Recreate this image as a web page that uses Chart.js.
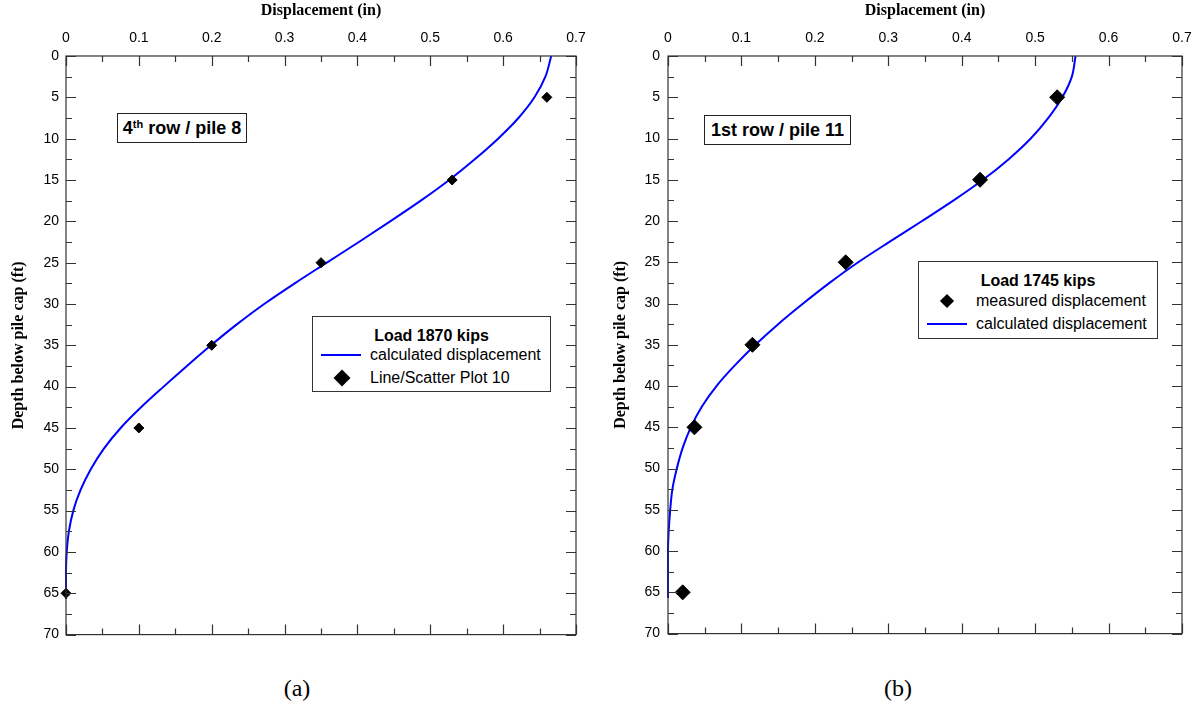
<!DOCTYPE html>
<html>
<head>
<meta charset="utf-8">
<script src="https://cdn.jsdelivr.net/npm/chart.js@4.4.0/dist/chart.umd.min.js"></script>
<style>
  body { margin: 0; background: #fff; width: 1201px; height: 712px; position: relative; overflow: hidden; font-family: "Liberation Sans", Arial, sans-serif; color: #000; }
  .panel { position: absolute; top: 0; height: 650px; }
  #wrapA { left: 0; width: 600px; }
  #wrapB { left: 600px; width: 601px; }
  .caption { position: absolute; top: 672px; font: 24px "Liberation Serif", "Times New Roman", serif; transform: translate(-50%, -50%); }
  .tag { position: absolute; border: 1px solid #222; background: #fff; font: bold 18px "Liberation Sans", Arial, sans-serif; text-align: center; line-height: 28px; height: 28px; }
  .tag sup { font-size: 11px; vertical-align: 0; position: relative; top: -6px; }
  .legend { position: absolute; border: 1px solid #333; background: #fff; font-size: 16px; }
  .legend .ttl { position: absolute; left: 0; right: 0; text-align: center; font-weight: bold; line-height: 18px; }
  .legend .lbl { position: absolute; line-height: 18px; white-space: nowrap; }
  .legend .ln { position: absolute; height: 2px; background: #0000ff; }
  .legend .dm { position: absolute; background: #000; transform: translate(-50%, -50%) rotate(45deg); }
</style>
</head>
<body>
<div class="panel" id="wrapA"><canvas id="chartA"></canvas></div>
<div class="panel" id="wrapB"><canvas id="chartB"></canvas></div>

<div class="tag" style="left:117px;top:113px;width:128px">4<sup>th</sup> row / pile 8</div>
<div class="tag" style="left:704px;top:115px;width:145px">1st row / pile 11</div>

<div class="legend" style="left:312px;top:316px;width:237px;height:74px">
  <div class="ttl" style="top:10px">Load 1870 kips</div>
  <div class="ln" style="left:8px;top:37px;width:40px"></div>
  <div class="lbl" style="left:57px;top:29px">calculated displacement</div>
  <div class="dm" style="left:29px;top:61px;width:12px;height:12px"></div>
  <div class="lbl" style="left:57px;top:52px">Line/Scatter Plot 10</div>
</div>

<div class="legend" style="left:918px;top:261px;width:238px;height:76px">
  <div class="ttl" style="top:10px">Load 1745 kips</div>
  <div class="dm" style="left:28px;top:39px;width:10px;height:10px"></div>
  <div class="lbl" style="left:57px;top:30px">measured displacement</div>
  <div class="ln" style="left:8px;top:61px;width:40px"></div>
  <div class="lbl" style="left:57px;top:53px">calculated displacement</div>
</div>

<div class="caption" style="left:297px;top:688px">(a)</div>
<div class="caption" style="left:898px;top:688px">(b)</div>

<script>
// Panel (a) : 4th row / pile 8, load 1870 kips
const calcDepthA = [0, 2.5, 5, 7.5, 10, 12.5, 15, 17.5, 20, 22.5, 25, 27.5, 30, 32.5, 35, 37.5, 40, 42.5, 45, 47.5, 50, 52.5, 55, 57.5, 60, 62.5, 65.7];
const calcDispA  = [0.666, 0.658, 0.643, 0.621, 0.593, 0.561, 0.526, 0.487, 0.445, 0.402, 0.358, 0.314, 0.272, 0.234, 0.199, 0.166, 0.134, 0.103, 0.075, 0.052, 0.034, 0.02, 0.01, 0.004, 0.001, 0, 0];
const measDepthA = [5, 15, 25, 35, 45, 65];
const measDispA  = [0.66, 0.53, 0.35, 0.2, 0.1, 0];

// Panel (b) : 1st row / pile 11, load 1745 kips
const calcDepthB = [0, 2.5, 5, 7.5, 10, 12.5, 15, 17.5, 20, 22.5, 25, 27.5, 30, 32.5, 35, 37.5, 40, 42.5, 45, 47.5, 50, 52.5, 55, 57.5, 60, 65.7];
const calcDispB  = [0.555, 0.55, 0.537, 0.518, 0.494, 0.464, 0.429, 0.389, 0.346, 0.302, 0.259, 0.22, 0.184, 0.15, 0.119, 0.091, 0.066, 0.046, 0.031, 0.02, 0.012, 0.006, 0.003, 0.001, 0, 0];
const measDepthB = [5, 15, 25, 35, 45, 65];
const measDispB  = [0.53, 0.425, 0.242, 0.115, 0.036, 0.02];

const xTitle = 'Displacement (in)';
const yTitle = 'Depth below pile cap (ft)';

// cadre + graduations vers l'intérieur, sur les 4 côtés
const frameTicks = {
  id: 'frameTicks',
  afterDraw(chart) {
    const {ctx, chartArea: a, scales} = chart;
    const x = scales.x, y = scales.y;
    ctx.save();
    ctx.strokeStyle = '#333';
    ctx.lineWidth = 1.2;
    ctx.strokeRect(a.left, a.top, a.right - a.left, a.bottom - a.top);
    ctx.beginPath();
    for (let i = 0; i <= 14; i++) {
      const v = i * 0.05;
      const px = Math.round(x.getPixelForValue(v)) + 0.5;
      const len = i % 2 === 0 ? 10 : 6;
      ctx.moveTo(px, a.top); ctx.lineTo(px, a.top + len);
      ctx.moveTo(px, a.bottom); ctx.lineTo(px, a.bottom - len);
    }
    for (let i = 0; i <= 28; i++) {
      const v = i * 2.5;
      const py = Math.round(y.getPixelForValue(v)) + 0.5;
      const len = i % 2 === 0 ? 10 : 6;
      ctx.moveTo(a.left, py); ctx.lineTo(a.left + len, py);
      ctx.moveTo(a.right, py); ctx.lineTo(a.right - len, py);
    }
    ctx.stroke();
    ctx.restore();
  }
};

function makeChart(id, calcDepth, calcDisp, measDepth, measDisp, opt) {
  const ctx = document.getElementById(id);
  return new Chart(ctx, {
    type: 'line',
    data: {
      datasets: [
        {
          label: 'measured',
          data: measDepth.map((d, i) => ({x: measDisp[i], y: d})),
          showLine: false,
          pointStyle: 'rectRot',
          pointRadius: opt.markerSize,
          pointBackgroundColor: '#000',
          pointBorderColor: '#000',
          pointBorderWidth: 1,
          order: 0,
          clip: 12
        },
        {
          label: 'calculated displacement',
          data: calcDepth.map((d, i) => ({x: calcDisp[i], y: d})),
          borderColor: '#0000ff',
          borderWidth: 2,
          pointRadius: 0,
          cubicInterpolationMode: 'monotone',
          fill: false,
          order: 1,
          clip: 4
        }
      ]
    },
    options: {
      indexAxis: 'y',
      responsive: true,
      maintainAspectRatio: false,
      animation: false,
      layout: { padding: { left: 0, top: 0, right: opt.padRight, bottom: 15 } },
      plugins: { legend: { display: false }, tooltip: { enabled: false } },
      scales: {
        x: {
          type: 'linear',
          position: 'top',
          min: 0,
          max: 0.7,
          ticks: { stepSize: 0.1, color: '#000', padding: 9, font: { family: 'Liberation Sans', size: 14 } },
          grid: { display: false, drawTicks: false },
          border: { display: false },
          title: { display: true, text: xTitle, color: '#000', padding: { top: 1, bottom: 0 },
                   font: { family: 'Liberation Serif', size: 16, weight: 'bold' } },
          afterFit(s) { s.height = 56; }
        },
        y: {
          type: 'linear',
          position: 'left',
          min: 0,
          max: 70,
          reverse: true,
          ticks: { stepSize: 5, color: '#000', padding: opt.yPad, font: { family: 'Liberation Sans', size: 14 } },
          grid: { display: false, drawTicks: false },
          border: { display: false },
          title: { display: true, text: yTitle, color: '#000', padding: { top: opt.yTitlePad, bottom: 0 },
                   font: { family: 'Liberation Serif', size: 16, weight: 'bold' } },
          afterFit(s) { s.width = opt.yWidth; }
        }
      }
    },
    plugins: [frameTicks]
  });
}

makeChart('chartA', calcDepthA, calcDispA, measDepthA, measDispA, { markerSize: 5, padRight: 24, yWidth: 66, yPad: 7, yTitlePad: 9 });
makeChart('chartB', calcDepthB, calcDispB, measDepthB, measDispB, { markerSize: 7.5, padRight: 19, yWidth: 68, yPad: 8, yTitlePad: 11 });
</script>
</body>
</html>
